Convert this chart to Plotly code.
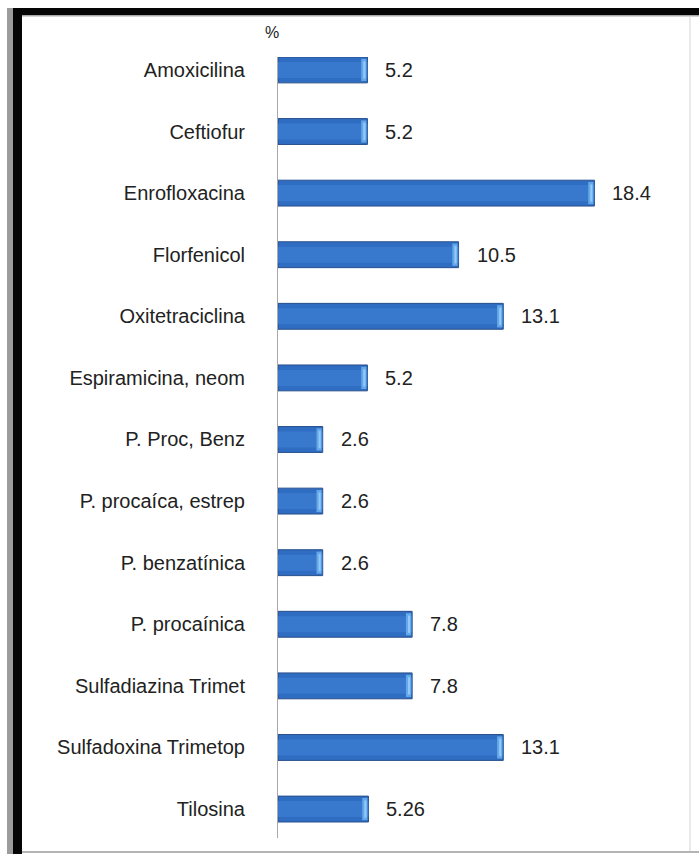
import plotly.graph_objects as go

# Antibiotic usage (%)
farmacos = [
    "Amoxicilina", "Ceftiofur", "Enrofloxacina", "Florfenicol", "Oxitetraciclina",
    "Espiramicina, neom", "P. Proc, Benz", "P. procaíca, estrep", "P. benzatínica",
    "P. procaínica", "Sulfadiazina Trimet", "Sulfadoxina Trimetop", "Tilosina",
]
porcentaje = [5.2, 5.2, 18.4, 10.5, 13.1, 5.2, 2.6, 2.6, 2.6, 7.8, 7.8, 13.1, 5.26]
etiquetas = ["5.2", "5.2", "18.4", "10.5", "13.1", "5.2", "2.6", "2.6", "2.6",
             "7.8", "7.8", "13.1", "5.26"]

W, H = 699, 854
L, R, T, B = 278, 10, 57, 16
FONT = "Liberation Sans, Arial, sans-serif"
FS = 20


def px_x(px):
    return (px - L) / (W - L - R)


def px_y(py):
    return (H - B - py) / (H - T - B)


fig = go.Figure()

# cylinder-style shading: outlined body, lighter core, bright end cap
fig.add_trace(go.Bar(
    y=farmacos, x=porcentaje, orientation="h", width=0.42,
    marker=dict(color="#2F6DC2", line=dict(width=1, color="#284F8C")),
    hoverinfo="skip", showlegend=False,
))
fig.add_trace(go.Bar(
    y=farmacos, x=porcentaje, orientation="h", width=0.26,
    marker=dict(color="#3879CE", line=dict(width=0)),
    hoverinfo="skip", showlegend=False,
))
cap = 0.36
fig.add_trace(go.Bar(
    y=farmacos, x=[cap - 0.06] * len(porcentaje), base=[v - cap for v in porcentaje],
    orientation="h", width=0.36,
    marker=dict(color="#64A8EC", line=dict(width=0)),
    hoverinfo="skip", showlegend=False,
))
fig.add_trace(go.Bar(
    y=farmacos, x=[0.12] * len(porcentaje), base=[v - 0.24 for v in porcentaje],
    orientation="h", width=0.28,
    marker=dict(color="#93CAF4", line=dict(width=0)),
    hoverinfo="skip", showlegend=False,
))

for f, v, t in zip(farmacos, porcentaje, etiquetas):
    fig.add_annotation(
        x=v, y=f, text=t, showarrow=False, xanchor="left", xshift=16,
        font=dict(family=FONT, size=FS, color="#222222"),
    )

fig.add_annotation(
    x=px_x(272), y=px_y(33), xref="paper", yref="paper", text="%",
    showarrow=False, xanchor="center", yanchor="middle",
    font=dict(family=FONT, size=16, color="#222222"),
)

# picture frame
frame = [
    dict(x0=7, x1=13, y0=8, y1=854, color="#9C9C9C"),
    dict(x0=13, x1=22, y0=8, y1=854, color="#050505"),
    dict(x0=13, x1=699, y0=8, y1=15, color="#050505"),
    dict(x0=22, x1=699, y0=15, y1=16.5, color="#A8A8A8"),
]
for s in frame:
    fig.add_shape(
        type="rect", xref="paper", yref="paper",
        x0=px_x(s["x0"]), x1=px_x(s["x1"]), y0=px_y(s["y1"]), y1=px_y(s["y0"]),
        fillcolor=s["color"], line=dict(width=0), layer="above",
    )
fig.add_shape(type="line", xref="paper", yref="paper",
              x0=px_x(690), x1=px_x(690), y0=px_y(16), y1=px_y(852),
              line=dict(color="#D4D4D4", width=1))
fig.add_shape(type="line", xref="paper", yref="paper",
              x0=px_x(22), x1=px_x(699), y0=px_y(852), y1=px_y(852),
              line=dict(color="#B4B4B4", width=2))

fig.update_layout(
    width=W, height=H, barmode="overlay",
    margin=dict(l=L, r=R, t=T, b=B, autoexpand=False),
    paper_bgcolor="white", plot_bgcolor="white",
    xaxis=dict(range=[0, 23.9], showgrid=False, zeroline=False,
               showticklabels=False, showline=False),
    yaxis=dict(categoryorder="array", categoryarray=farmacos,
               range=[12.47, -0.21], showgrid=False, zeroline=False,
               showline=True, linecolor="#A8A8A8", linewidth=1,
               ticks="", ticklabelstandoff=28,
               tickfont=dict(family=FONT, size=FS, color="#222222")),
)

fig.write_html("out.html")
